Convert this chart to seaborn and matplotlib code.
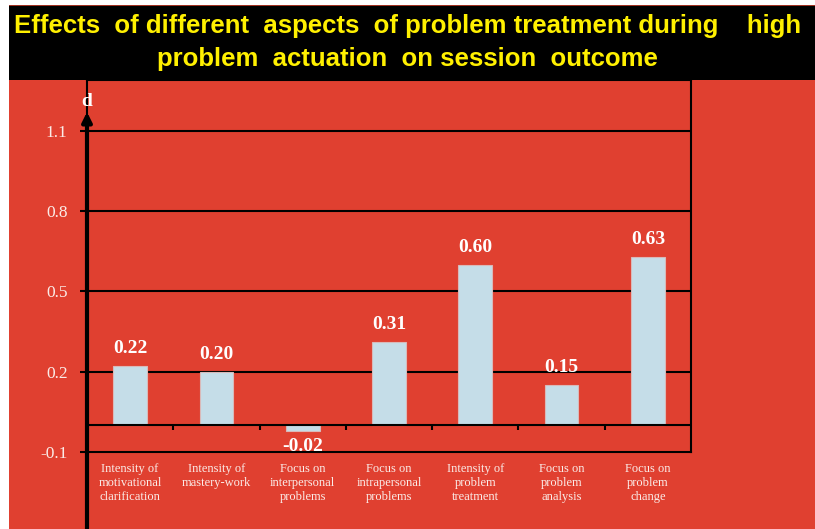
import matplotlib
matplotlib.use("Agg")
import matplotlib.pyplot as plt
from matplotlib.patches import Rectangle
import seaborn as sns
import pandas as pd

# Effect sizes (Cohen's d) per aspect of problem treatment
categories = [
    "Intensity of\nmotivational\nclarification",
    "Intensity of\nmastery-work",
    "Focus on\ninterpersonal\nproblems",
    "Focus on\nintrapersonal\nproblems",
    "Intensity of\nproblem\ntreatment",
    "Focus on\nproblem\nanalysis",
    "Focus on\nproblem\nchange",
]
d_values = [0.22, 0.20, -0.02, 0.31, 0.60, 0.15, 0.63]
y_ticks = [-0.1, 0.2, 0.5, 0.8, 1.1]
title_lines = [
    "Effects  of different  aspects  of problem treatment during    high",
    "problem  actuation  on session  outcome",
]

RED = "#e04030"
BAR = "#c5dde8"
PALE = "#fbece8"
YELLOW = "#fff000"

sns.set_theme(style="white")
plt.rcParams["font.family"] = ["Liberation Serif", "DejaVu Serif"]

W, H = 815, 529
fig = plt.figure(figsize=(W / 100, H / 100), dpi=100)
fig.patch.set_facecolor("white")

# red slide background and black title band
fig.add_artist(Rectangle((9 / W, 0), 1 - 9 / W, (H - 80) / H,
                         transform=fig.transFigure, facecolor=RED,
                         edgecolor="none", zorder=0))
fig.add_artist(Rectangle((9 / W, (H - 80) / H), 1 - 9 / W, 75 / H,
                         transform=fig.transFigure, facecolor="black",
                         edgecolor="none", zorder=0))
fig.add_artist(Rectangle((9 / W, (H - 6) / H), 1 - 9 / W, 1.2 / H,
                         transform=fig.transFigure, facecolor="#a03020",
                         edgecolor="none", zorder=0))
fig.text(0.5, (H - 26) / H, title_lines[0], ha="center", va="center",
         color=YELLOW, fontsize=18.5, fontweight="bold",
         family=["Liberation Sans"])
fig.text(0.5, (H - 59) / H, title_lines[1], ha="center", va="center",
         color=YELLOW, fontsize=18.5, fontweight="bold",
         family=["Liberation Sans"])

# plot area
ax_l, ax_r, ax_t, ax_b = 87, 691, 80, 452
ax = fig.add_axes([ax_l / W, (H - ax_b) / H, (ax_r - ax_l) / W, (ax_b - ax_t) / H])
ax.set_facecolor(RED)
ax.patch.set_alpha(0)

df = pd.DataFrame({"aspect": categories, "d": d_values})
sns.barplot(data=df, x="aspect", y="d", color=BAR, width=0.39,
            edgecolor="#d9b9b9", linewidth=0.8, saturation=1, ax=ax, zorder=3)

px_per_unit = 267.7
y_top = -0.1 + (ax_b - ax_t) / px_per_unit
ax.set_ylim(-0.1, y_top)
ax.set_xlim(-0.5, len(categories) - 0.5)

# horizontal gridlines and zero line
for v in y_ticks[1:]:
    ax.axhline(v, color="black", lw=1.5, zorder=2)
ax.axhline(0, color="black", lw=1.5, zorder=4)
# category separators on the zero line
sep = [i + 0.5 for i in range(len(categories) - 1)]
ax.vlines(sep, -5 / px_per_unit, 0, color="black", lw=1.5, zorder=4)

for s in ["left", "right", "bottom", "top"]:
    ax.spines[s].set_color("black")
    ax.spines[s].set_linewidth(1.5)
    ax.spines[s].set_visible(True)

ax.set_yticks(y_ticks)
ax.set_yticklabels([f"{v:.1f}" for v in y_ticks])
ax.tick_params(axis="y", direction="out", length=5, width=1.5, color="black",
               labelcolor=PALE, labelsize=12.5, pad=9, left=True)
ax.tick_params(axis="x", length=0, labelcolor=PALE, labelsize=9, pad=8)
for lab in ax.get_xticklabels():
    lab.set_linespacing(1.2)
ax.set_xlabel("")
ax.set_ylabel("")

# y-axis arrow extending below the plot
ax.annotate("", xy=(0, (ax_b - 112) / (ax_b - ax_t)),
            xytext=(0, -(H - ax_b) / (ax_b - ax_t)),
            xycoords="axes fraction", textcoords="axes fraction",
            arrowprops=dict(arrowstyle="-|>", color="black", lw=3,
                            mutation_scale=14, shrinkA=0, shrinkB=0),
            annotation_clip=False, zorder=6)
ax.text(0, (ax_b - 102) / (ax_b - ax_t), "d", transform=ax.transAxes,
        ha="center", va="center", color="white", fontsize=14,
        fontweight="bold", zorder=6)

# value labels
for i, v in enumerate(d_values):
    off = 12.5 if v >= 0 else -11.5
    ax.annotate(f"{v:.2f}", xy=(i, v), xytext=(0, off),
                textcoords="offset points", ha="center", va="center",
                color="white", fontsize=14, fontweight="bold", zorder=5)

fig.savefig("out.png", dpi=100, facecolor=fig.get_facecolor())
